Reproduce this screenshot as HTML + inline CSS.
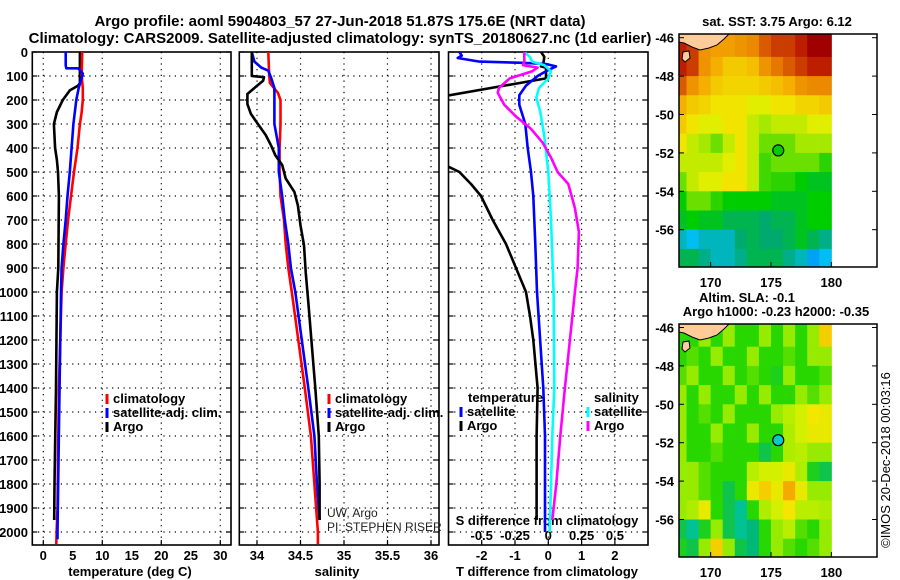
<!DOCTYPE html>
<html><head><meta charset="utf-8"><style>
body{margin:0;background:#fff;}
svg{display:block;font-family:"Liberation Sans",sans-serif;}
.b{font-weight:bold;}
</style></head><body>
<svg id="chart" width="900" height="580" viewBox="0 0 900 580" xmlns="http://www.w3.org/2000/svg">
<defs>
<clipPath id="c1"><rect x="32" y="52" width="199" height="493"/></clipPath>
<clipPath id="c2"><rect x="239" y="52" width="200" height="493"/></clipPath>
<clipPath id="c3"><rect x="448.5" y="52" width="199.5" height="493"/></clipPath>
<clipPath id="m1"><rect x="679" y="34" width="198" height="233"/></clipPath>
<clipPath id="m2"><rect x="679" y="324" width="198" height="233"/></clipPath>
</defs>
<text x="340" y="26" text-anchor="middle" class="b" font-size="15">Argo profile: aoml 5904803_57 27-Jun-2018 51.87S 175.6E (NRT data)</text>
<text x="340" y="43" text-anchor="middle" class="b" font-size="15">Climatology: CARS2009. Satellite-adjusted climatology: synTS_20180627.nc (1d earlier)</text>
<g id="g"></g>
</svg>
<script>
// ---- data ----
const depthTicks=[0,100,200,300,400,500,600,700,800,900,1000,1100,1200,1300,1400,1500,1600,1700,1800,1900,2000];
const tempTicks=[0,5,10,15,20,25,30];
const salTicks=[34,34.5,35,35.5,36];
const salTickLabels=["34","34.5","35","35.5","36"];
const tdTicks=[-2,-1,0,1,2];
const sdTicks=[-0.5,-0.25,0,0.25,0.5];
const sdTickLabels=["-0.5","-0.25","0","0.25","0.5"];

const tempClimDepth=[0,100,150,200,250,300,400,500,600,700,800,900,1000,1400,1500,1700,1900,2000,2050];
const tempClim=[6.6,6.5,6.7,6.7,6.5,6.2,5.8,5.2,4.7,4.2,3.8,3.4,3.1,2.65,2.6,2.5,2.4,2.25,2.2];
const tempSatDepth=[0,55,68,68,90,100,150,200,300,400,500,600,700,800,900,1000,1500,2000,2030];
const tempSat=[3.8,3.8,3.9,5.9,6.7,6.6,6.0,5.6,5.1,4.8,4.5,4.1,3.8,3.4,3.1,3.0,2.7,2.4,2.4];
const tempArgoDepth=[0,130,140,160,200,250,300,400,450,500,600,900,1000,1400,1800,1950];
const tempArgo=[6.2,6.2,5.9,4.5,3.3,2.3,1.8,2.0,2.3,2.5,2.65,2.55,2.3,2.15,1.9,1.85];

const salClimDepth=[0,100,130,170,200,300,400,500,600,700,800,900,1000,1400,1600,1800,2000,2050];
const salClim=[34.13,34.14,34.15,34.24,34.27,34.27,34.26,34.26,34.27,34.31,34.33,34.36,34.4,34.55,34.62,34.66,34.7,34.7];
const salSatDepth=[0,40,65,78,105,150,200,300,400,500,600,700,800,900,1000,1400,1600,1800,1950];
const salSat=[33.94,33.97,34.05,34.13,34.16,34.2,34.2,34.2,34.25,34.25,34.29,34.32,34.36,34.39,34.44,34.59,34.66,34.69,34.72];
const salArgoDepth=[0,100,105,120,150,175,217,258,300,346,388,430,471,527,583,640,722,805,917,1042,1400,1600,1800,1950];
const salArgo=[33.94,33.94,34.08,34.07,33.97,33.89,33.89,33.93,34.01,34.1,34.16,34.21,34.29,34.33,34.43,34.47,34.5,34.54,34.56,34.59,34.67,34.71,34.72,34.72];

const tdSatDepth=[0,15,25,40,45,50,60,80,100,140,180,220,300,400,500,600,800,1000,1400,1600,2000];
const tdSat=[-2.67,-2.6,-2.72,-2.07,-0.77,-0.07,0.23,-0.07,-0.32,-0.67,-0.87,-0.87,-0.69,-0.62,-0.52,-0.45,-0.39,-0.34,-0.15,-0.1,-0.1];
const tdArgoDepth=[0,20,50,60,65,110,186,464,500,550,600,700,800,900,1000,1100,1200,1400,1600,1950];
const tdArgo=[-0.22,-0.12,-0.15,-0.22,-0.07,-0.07,-3.2,-3.2,-2.67,-2.32,-2.02,-1.67,-1.27,-0.97,-0.67,-0.55,-0.45,-0.32,-0.35,-0.35];
const sdSatDepth=[0,20,40,55,80,110,150,190,250,350,500,700,1000,1400,1600,1800,2000];
const sdSat=[-0.18,-0.14,-0.12,-0.03,0.02,0.0,-0.07,-0.09,-0.06,-0.03,0.0,0.02,0.04,0.045,0.03,0.02,0.01];
const sdArgoDepth=[0,40,55,65,80,110,150,170,220,270,320,380,440,500,550,650,750,900,1000,1400,1600,1800,1950];
const sdArgo=[-0.18,-0.18,-0.19,-0.08,-0.12,-0.29,-0.37,-0.38,-0.33,-0.24,-0.13,-0.04,0.02,0.07,0.15,0.2,0.23,0.22,0.2,0.125,0.09,0.06,0.03];

const mapLons=[167,168,169,170,171,172,173,174,175,176,177,178,179];
const mapLats=[-46,-47,-48,-49,-50,-51,-52,-53,-54,-55,-56,-57];
const sstGrid=[
[9,8.5,7,6.8,6.8,7,7.2,8,8.5,8.5,9,9.5,9.5],
[9,8.5,7,6.5,6,6,6.2,7,7.5,8,8.5,9,9],
[8,7,6.5,6,5.8,5.8,5.8,6,6.2,6.5,7,7.2,7.2],
[6.5,6,5.8,5.5,5.5,5.5,5.2,5.2,5.5,5.5,5.8,5.8,6],
[6,5.5,5.2,5.2,5.5,5.5,5,4.8,5,5,5,5.2,5.2],
[5.5,5,4.8,4.5,5,5.5,5,4.5,4.5,4.5,4.8,4.8,4.8],
[5,5,5,5,5.2,5.5,5,4.3,4.5,4.5,4.5,4.5,4.2],
[4.5,5,5.2,5.2,5.5,5.5,5,4.3,4.2,4.2,4,3.8,3.8],
[4,4.5,4.5,4.2,4,4,4,4,3.8,3.8,3.8,4,4],
[3.8,4,3.8,3.8,3.5,3.5,3.5,3.3,3.5,3.5,3.8,4,4],
[3,2.8,3,3,3,3.3,3.5,3.3,3.3,3.5,3.8,3.5,3.2],
[3.5,3.5,3.2,3,3,3.2,3.5,3.5,3.5,3.2,3,2.6,2.8]];
const slaGrid=[
[-0.1,-0.1,-0.05,-0.1,-0.05,-0.1,-0.1,-0.05,-0.1,-0.05,-0.1,-0.05,0.05],
[-0.1,-0.08,-0.1,-0.05,-0.1,-0.1,-0.05,-0.1,-0.1,-0.08,-0.1,-0.05,-0.05],
[-0.08,-0.05,-0.1,-0.1,-0.05,-0.1,-0.08,-0.1,-0.12,-0.05,-0.1,-0.1,-0.08],
[-0.05,-0.1,-0.05,-0.1,-0.1,-0.05,-0.1,-0.05,-0.1,-0.1,-0.05,-0.08,-0.05],
[-0.05,-0.1,-0.08,-0.1,-0.05,-0.1,-0.1,-0.1,-0.05,-0.02,0,0.03,0.02],
[-0.05,-0.1,-0.1,-0.05,-0.1,-0.1,-0.05,-0.1,-0.1,-0.03,0,0.02,0.02],
[-0.05,-0.1,-0.1,-0.08,-0.1,-0.1,-0.1,-0.15,-0.1,-0.03,-0.02,-0.05,-0.05],
[-0.05,-0.05,-0.08,-0.1,-0.1,-0.1,-0.02,0,0,0.02,-0.03,-0.12,-0.15],
[-0.05,-0.05,-0.08,-0.1,-0.15,-0.1,0.02,0.05,0.02,0.08,0.02,-0.05,-0.05],
[-0.05,-0.03,0.02,-0.1,-0.15,-0.2,-0.1,-0.03,0,0.03,-0.02,-0.02,-0.03],
[-0.15,-0.2,-0.12,-0.05,-0.15,-0.2,-0.18,-0.1,-0.05,-0.02,-0.08,-0.1,-0.05],
[-0.12,-0.15,-0.05,0.05,-0.05,-0.15,-0.18,-0.1,-0.05,-0.08,-0.1,-0.08,-0.05]];
const latTicks=[-46,-48,-50,-52,-54,-56];
const lonTicks=[170,175,180];
const argoLon=175.6, argoLat=-51.87;

// ---- scales ----
const NS="http://www.w3.org/2000/svg";
const G=document.getElementById('g');
function el(t,a,p){const e=document.createElementNS(NS,t);for(const k in a)e.setAttribute(k,a[k]);(p||G).appendChild(e);return e;}
const yD=d=>52+0.24*d;
const xT=v=>43.3+v*5.9;
const xS=v=>257+(v-34)*87;
const xTD=v=>548.3+v*33.3;
const xSD=v=>548.3+v*4*33.3;
const mx=lon=>771+(lon-175)*12.07;
const my1=lat=>37.7+(-46-lat)*19.2;
const my2=lat=>327.5+(-46-lat)*19.2;

function panel(name,x0,x1,gridVals,xf){
  const g=el('g',{});
  
  
  depthTicks.forEach(d=>{if(d>0){el('line',{x1:x0,x2:x1,y1:yD(d),y2:yD(d),stroke:'#000','stroke-dasharray':'1.2,4.5','stroke-width':1.2},g);}
    el('line',{x1:x0,x2:x0+5,y1:yD(d),y2:yD(d),stroke:'#000','stroke-width':1.2},g);
    el('line',{x1:x1-5,x2:x1,y1:yD(d),y2:yD(d),stroke:'#000','stroke-width':1.2},g);});
  gridVals.forEach(v=>{el('line',{x1:xf(v),x2:xf(v),y1:52,y2:545,stroke:'#000','stroke-dasharray':'1.2,4.5','stroke-width':1.2},g);
    el('line',{x1:xf(v),x2:xf(v),y1:540,y2:545,stroke:'#000','stroke-width':1.2},g);});
  const r=el('rect',{x:x0,y:52,width:x1-x0,height:493,fill:'none',stroke:'#000','stroke-width':1.6},g);
  
  
  return g;
}
function series(name,ds,vs,xf,color,clip){
  const pts=ds.map((d,i)=>xf(vs[i]).toFixed(1)+','+yD(d).toFixed(1)).join(' ');
  const p=el('polyline',{points:pts,fill:'none',stroke:color,'stroke-width':2.6,'stroke-linejoin':'round','clip-path':'url(#'+clip+')'});
  
  
}
function txt(s,x,y,o){const t=el('text',Object.assign({x:x,y:y,'font-size':13,'font-weight':'bold'},o||{}));t.textContent=s;return t;}
function legend(items,x,y){items.forEach((it,i)=>{
  const l=el('line',{x1:x,x2:x,y1:y+i*14-9,y2:y+i*14+1,stroke:it[1],'stroke-width':3});
  
  
  const t=txt(it[0],x+6,y+i*14);
  
  });}

// Panel 1 temperature
panel('temperature-panel',32.3,231,[0,10,20,30],xT);
depthTicks.forEach(d=>{const t=txt(String(d),28,yD(d)+5,{'text-anchor':'end'});
  
  });
tempTicks.forEach(v=>{const t=txt(String(v),xT(v),560,{'text-anchor':'middle'});
  
  });
let t1=txt('temperature (deg C)',130,576,{'text-anchor':'middle'});


series('temp-argo-line',tempArgoDepth,tempArgo,xT,'#000','c1');
series('temp-climatology-line',tempClimDepth,tempClim,xT,'#f00','c1');
series('temp-satellite-line',tempSatDepth,tempSat,xT,'#00f','c1');
legend([['climatology','#f00','clim'],['satellite-adj. clim.','#00f','sat'],['Argo','#000','argo']],107,403);

// Panel 2 salinity
panel('salinity-panel',239.3,439,[34,34.5,35,35.5,36],xS);
salTicks.forEach((v,i)=>{const t=txt(salTickLabels[i],xS(v),560,{'text-anchor':'middle'});
  
  });
let t2=txt('salinity',337,576,{'text-anchor':'middle'});


series('sal-climatology-line',salClimDepth,salClim,xS,'#f00','c2');
series('sal-satellite-line',salSatDepth,salSat,xS,'#00f','c2');
series('sal-argo-line',salArgoDepth,salArgo,xS,'#000','c2');
legend([['climatology','#f00','sal-clim'],['satellite-adj. clim.','#00f','sal-sat'],['Argo','#000','sal-argo']],329,403);
let pi1=txt('UW, Argo',327,517,{'font-weight':'normal','font-size':12,fill:'#222'});


let pi2=txt('PI: STEPHEN RISER',327,531,{'font-weight':'normal','font-size':12,fill:'#222'});



// Panel 3 differences
panel('difference-panel',448.5,648,[-2,-1,0,1,2],xTD);
tdTicks.forEach(v=>{const t=txt(String(v),xTD(v),560,{'text-anchor':'middle'});
  
  });
sdTicks.forEach((v,i)=>{const t=txt(sdTickLabels[i],xSD(v),540,{'text-anchor':'middle'});
  
  });
let t3=txt('T difference from climatology',547,576,{'text-anchor':'middle'});


let t4=txt('S difference from climatology',547,525,{'text-anchor':'middle'});


series('t-diff-argo-line',tdArgoDepth,tdArgo,xTD,'#000','c3');
series('t-diff-satellite-line',tdSatDepth,tdSat,xTD,'#00f','c3');
series('s-diff-satellite-line',sdSatDepth,sdSat,xSD,'#0ff','c3');
series('s-diff-argo-line',sdArgoDepth,sdArgo,xSD,'#f0f','c3');
let lt=txt('temperature',468,402);


let ls=txt('salinity',594,402);


legend([['satellite','#00f','t-sat'],['Argo','#000','t-argo']],461,416);
legend([['satellite','#0ff','s-sat'],['Argo','#f0f','s-argo']],588,416);

// ---- maps ----
function sstColor(v){const s=[[2.3,[0,120,255]],[2.8,[0,190,240]],[3.3,[0,170,110]],[4,[0,205,0]],[4.7,[150,230,0]],[5.3,[240,240,0]],[6.5,[245,175,0]],[7.5,[230,120,0]],[9,[190,30,0]],[9.5,[160,0,0]]];return interp(s,v);}
function slaColor(v){const s=[[-0.25,[0,215,215]],[-0.18,[0,185,120]],[-0.1,[40,215,0]],[-0.05,[150,235,0]],[0,[210,240,0]],[0.03,[245,230,0]],[0.08,[245,170,0]]];return interp(s,v);}
function interp(s,v){if(v<=s[0][0])return 'rgb('+s[0][1]+')';for(let i=1;i<s.length;i++){if(v<=s[i][0]){const f=(v-s[i-1][0])/(s[i][0]-s[i-1][0]);const c=s[i-1][1].map((a,k)=>Math.round(a+(s[i][1][k]-a)*f));return 'rgb('+c+')';}}return 'rgb('+s[s.length-1][1]+')';}
function map(name,grid,colf,myf,top,clip,markerFill){
  const g=el('g',{'clip-path':'url(#'+clip+')'});
  
  
  grid.forEach((row,r)=>row.forEach((v,c)=>{
    const x=mx(mapLons[c]);
    const y=r===0?top:myf(mapLats[r]);
    const cell=el('rect',{x:x,y:y,width:mx(mapLons[c]+1)-x+0.5,height:myf(mapLats[r]-1)-y+0.5,fill:colf(v)},g);
    
    }));
  const land=el('path',{d:'M679,'+(top)+' L729,'+top+' L724,'+(top+5)+' L717,'+(top+11)+' L709,'+(top+14)+' L700,'+(top+16)+' L692,'+(top+13)+' L684,'+(top+9)+' L679,'+(top+8)+'Z',fill:'#fc9',stroke:'#000','stroke-width':1},g);
  
  
  const isl=el('path',{d:'M683,'+(top+18)+' L689,'+(top+17)+' L690,'+(top+24)+' L685,'+(top+28)+' L682,'+(top+25)+'Z',fill:'#fc9',stroke:'#000','stroke-width':1},g);
  
  
  const m=el('circle',{cx:mx(argoLon),cy:myf(argoLat),r:5.5,fill:markerFill,stroke:'#000','stroke-width':1.2});
  
  
  const fr=el('rect',{x:679,y:top,width:198,height:233,fill:'none',stroke:'#000','stroke-width':1.5});
  
  
  latTicks.forEach(l=>{el('line',{x1:679,x2:684,y1:myf(l),y2:myf(l),stroke:'#000'});el('line',{x1:872,x2:877,y1:myf(l),y2:myf(l),stroke:'#000'});
    const t=txt(String(l),674,myf(l)+5,{'text-anchor':'end'});
    
    });
  lonTicks.forEach(l=>{el('line',{x1:mx(l),x2:mx(l),y1:top+228,y2:top+233,stroke:'#000'});
    const t=txt(String(l),mx(l),top+253,{'text-anchor':'middle'});
    
    });
}
map('sst-map',sstGrid,sstColor,my1,34,'m1','#0c0');
map('sla-map',slaGrid,slaColor,my2,324,'m2','#0cc');
let mt1=txt('sat. SST: 3.75 Argo: 6.12',777,26,{'text-anchor':'middle'});


let mt2=txt('Altim. SLA: -0.1',747,302,{'text-anchor':'middle'});


let mt3=txt('Argo h1000: -0.23 h2000: -0.35',776,316,{'text-anchor':'middle'});


let cp=txt('©IMOS 20-Dec-2018 00:03:16',0,0,{'text-anchor':'middle','font-weight':'normal','font-size':13,transform:'translate(890,460) rotate(-90)'});


</script>
</body></html>
